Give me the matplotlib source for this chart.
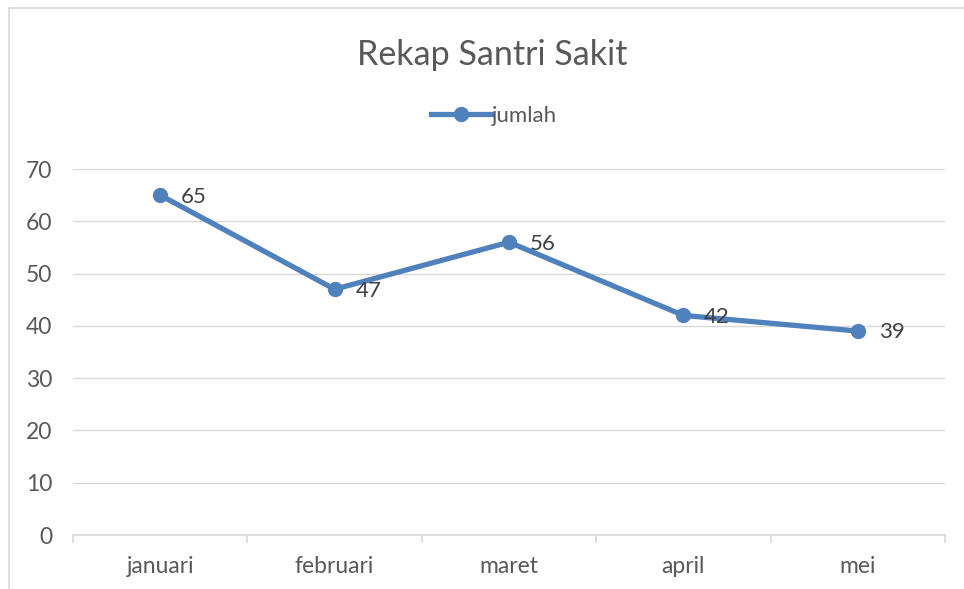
import matplotlib.pyplot as plt
from matplotlib.patches import Rectangle
from matplotlib.lines import Line2D

bulan = ["januari", "februari", "maret", "april", "mei"]
jumlah = [65, 47, 56, 42, 39]
y_ticks = [0, 10, 20, 30, 40, 50, 60, 70]

# Lato is the base of Carlito, so its metrics sit close to Calibri
plt.rcParams['font.family'] = ['Lato', 'DejaVu Sans']

W, H = 964, 589
fig = plt.figure(figsize=(W / 100, H / 100), dpi=100)

# chart border (cut off on right/bottom like the screenshot)
fig.patches.append(Rectangle((9 / W, -0.1), 1.0, 1 - 8 / H + 0.1, transform=fig.transFigure,
                             fill=False, edgecolor='#D9D9D9', linewidth=1.2))

ax = fig.add_axes([73 / W, 1 - 535 / H, (945 - 73) / W, (535 - 169) / H])
x = list(range(len(bulan)))
ax.plot(x, jumlah, color='#4F81BD', linewidth=3.8, marker='o', markersize=10,
        solid_capstyle='round', zorder=3)
for xi, v in zip(x, jumlah):
    ax.annotate(str(v), (xi, v), xytext=(15, -1), textcoords='offset points',
                ha='left', va='center', fontsize=16, color='#404040')

ax.set_xlim(-0.5, len(bulan) - 0.5)
ax.set_ylim(0, 70)
ax.set_yticks(y_ticks)
ax.set_xticks(x)
ax.set_xticklabels(bulan)
ax.set_xticks([i - 0.5 for i in range(len(bulan) + 1)], minor=True)
ax.grid(axis='y', color='#D9D9D9', linewidth=1)
ax.set_axisbelow(True)
for s in ['top', 'right', 'left']:
    ax.spines[s].set_visible(False)
ax.spines['bottom'].set_color('#D9D9D9')
ax.spines['bottom'].set_linewidth(1.2)
ax.tick_params(axis='y', length=0, pad=15, labelsize=16.5, labelcolor='#595959')
ax.tick_params(axis='x', which='major', length=0, pad=15, labelsize=16.5, labelcolor='#595959')
ax.tick_params(axis='x', which='minor', length=6, width=1.2, color='#D9D9D9')

fig.text(492 / W, 1 - 65 / H, "Rekap Santri Sakit", ha='center', va='baseline',
         fontsize=24.5, color='#595959')

handle = Line2D([], [], color='#4F81BD', linewidth=3.8, marker='o', markersize=10)
fig.legend([handle], ["jumlah"], loc='center', bbox_to_anchor=(494 / W, 1 - 116 / H),
           frameon=False, fontsize=16, labelcolor='#595959', handlelength=2.7,
           handletextpad=0.05)

fig.savefig("out.png", dpi=100)
